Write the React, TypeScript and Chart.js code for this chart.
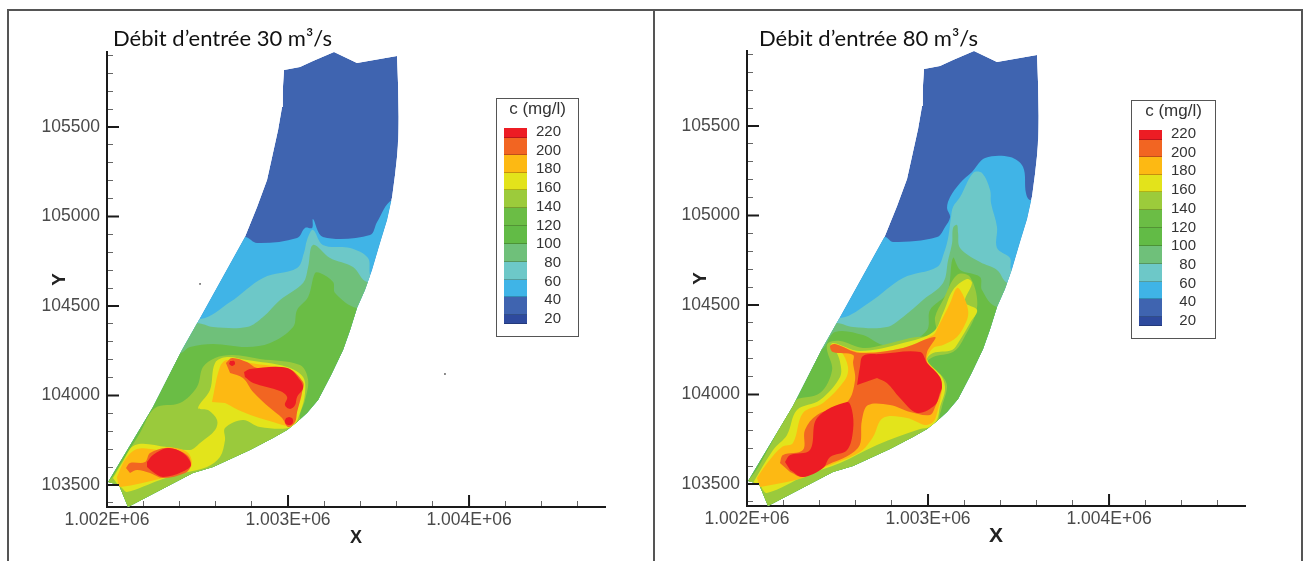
import React, { useEffect, useRef } from "react";
import { Chart, registerables } from "chart.js";

Chart.register(...registerables);

type P = [number, number];

const xAxisRange: P = [1002000, 1004751];
const yAxisRange: P = [103377, 105919];
const legendLevels = [220, 200, 180, 160, 140, 120, 100, 80, 60, 40, 20];
const legendColors = ["#ed1c24", "#f26522", "#fdb913", "#e3e31b", "#9ccb3b", "#6bbd45", "#62bb46", "#6fc07a", "#6dc8c8", "#3fb4e7", "#3f64b0", "#2e4a9e"];
const legendRowHeights = [10, 17, 18, 17, 18, 18, 18, 18, 18, 17, 18, 9];

// Colours of the filled contour bands
const c40 = "#3f64b0", c60 = "#40b4e7", c80 = "#6dc8c8", c100 = "#6fc07a", c120 = "#6abd45";
const c140 = "#9aca3c", c160 = "#e3e41b", c180 = "#fdb913", c200 = "#f26522", c220 = "#ed1c24";

const outsideBR: P = [1003729, 103304];
const outsideBL: P = [1001906, 103304];

const domain: P[] = [[1002978,105819],[1003066,105835],[1003138,105869],[1003254,105919],[1003381,105858],[1003602,105897],[1003608,105735],[1003613,105556],[1003608,105428],[1003602,105333],[1003591,105232],[1003575,105109],[1003547,104981],[1003508,104852],[1003464,104701],[1003425,104589],[1003381,104489],[1003343,104366],[1003304,104254],[1003238,104115],[1003166,103975],[1003105,103902],[1003050,103852],[1002995,103807],[1002917,103763],[1002790,103696],[1002586,103601],[1002475,103567],[1002116,103377],[1002066,103500],[1002006,103517],[1002254,103936],[1002414,104254],[1002514,104433],[1002762,104886],[1002829,105053],[1002884,105204],[1002917,105355],[1002945,105483],[1002967,105612],[1002972,105724]];

// ---- Débit 30 ----
const a60: P[] = [[1001906,104886],[1002762,104886],[1002829,104852],[1003050,104880],[1003094,104936],[1003133,104936],[1003138,104986],[1003193,104886],[1003453,104897],[1003492,104969],[1003575,105092],[1003729,105092],outsideBR,outsideBL];
const a80: P[] = [[1001906,104427],[1002514,104427],[1002680,104522],[1002862,104657],[1003050,104712],[1003088,104796],[1003105,104869],[1003138,104925],[1003193,104841],[1003343,104824],[1003442,104768],[1003464,104662],[1003729,104662],outsideBR,outsideBL];
const a100: P[] = [[1001906,104405],[1002497,104405],[1002586,104383],[1002773,104383],[1002862,104439],[1002956,104534],[1003083,104629],[1003111,104718],[1003138,104841],[1003232,104768],[1003359,104718],[1003437,104634],[1003729,104617],outsideBR,outsideBL];
const a120: P[] = [[1001906,104237],[1002403,104237],[1002459,104271],[1002586,104288],[1002773,104271],[1002901,104293],[1003028,104383],[1003050,104478],[1003111,104550],[1003149,104684],[1003177,104684],[1003249,104634],[1003260,104573],[1003381,104489],[1003729,104478],outsideBR,outsideBL];
const a140: P[] = [[1001906,103517],[1002000,103517],[1002088,103640],[1002182,103791],[1002265,103930],[1002403,103958],[1002497,104048],[1002530,104159],[1002597,104210],[1002696,104226],[1002845,104204],[1003066,104170],[1003111,104087],[1003094,103975],[1003066,103874],[1003122,103807],outsideBR,outsideBL];
const a160: P[] = [[1002033,103539],[1002083,103623],[1002155,103723],[1002331,103712],[1002459,103696],[1002514,103735],[1002597,103807],[1002608,103863],[1002558,103919],[1002503,103930],[1002569,104031],[1002597,104182],[1002663,104215],[1002773,104198],[1002995,104159],[1003083,104103],[1003094,104014],[1003066,103902],[1003022,103824],[1002845,103824],[1002751,103863],[1002652,103818],[1002652,103751],[1002624,103656],[1002553,103601],[1002420,103567],[1002293,103528],[1002110,103461],[1002083,103483],[1002061,103500]];
const a180Upper: P[] = [[1002580,103964],[1002624,104159],[1002663,104198],[1002790,104182],[1003011,104143],[1003066,104087],[1003077,104014],[1003050,103919],[1003022,103835],[1002917,103852],[1002751,103908],[1002652,103958]];
const a180Lower: P[] = [[1002055,103545],[1002099,103640],[1002166,103701],[1002293,103696],[1002337,103712],[1002442,103684],[1002470,103623],[1002448,103584],[1002309,103539],[1002072,103489],[1002061,103511]];
const a200Upper: P[] = [[1002657,104182],[1002691,104210],[1002773,104187],[1002829,104154],[1002995,104154],[1003083,104075],[1003077,104014],[1003050,103908],[1003039,103852],[1003000,103824],[1002967,103874],[1002901,103930],[1002807,104020],[1002751,104098],[1002680,104126]];
const a200Lower: P[] = [[1002105,103595],[1002127,103623],[1002210,103628],[1002238,103679],[1002337,103707],[1002442,103668],[1002464,103612],[1002431,103567],[1002309,103539],[1002238,103567],[1002166,103584],[1002127,103567]];
const a220Main: P[] = [[1002757,104131],[1002790,104148],[1002995,104154],[1003066,104087],[1003083,104042],[1003050,103992],[1003039,103947],[1003011,103925],[1002983,103947],[1002995,103992],[1002956,104025],[1002807,104070],[1002762,104103]];
const a220Spot1: P[] = [[1003006,103880],[1003022,103874],[1003028,103858],[1003022,103841],[1003006,103835],[1002989,103841],[1002983,103858],[1002989,103874]];
const a220Spot2: P[] = [[1002680,104193],[1002702,104193],[1002707,104176],[1002691,104165],[1002674,104176]];
const a220Lower: P[] = [[1002221,103628],[1002254,103668],[1002337,103707],[1002420,103679],[1002464,103612],[1002414,103573],[1002309,103545],[1002254,103573],[1002221,103601]];
const strayMarks: P[] = [[1002514,104623],[1003867,104120]];

// ---- Débit 80 ----
const b60: P[] = [[1001906,104880],[1002762,104880],[1002807,104852],[1003050,104880],[1003094,104936],[1003122,104992],[1003105,105042],[1003122,105103],[1003177,105182],[1003243,105243],[1003315,105321],[1003453,105327],[1003525,105271],[1003541,105126],[1003564,105087],[1003729,105087],outsideBR,outsideBL];
const b80: P[] = [[1001906,104427],[1002514,104427],[1002680,104517],[1002862,104651],[1003050,104712],[1003088,104791],[1003111,104874],[1003127,104992],[1003138,105048],[1003177,105103],[1003249,105238],[1003298,105238],[1003343,105143],[1003348,105070],[1003381,104936],[1003381,104819],[1003453,104763],[1003464,104696],[1003729,104696],outsideBR,outsideBL];
const b100: P[] = [[1001906,104400],[1002497,104400],[1002586,104377],[1002773,104377],[1002862,104433],[1002972,104528],[1003083,104623],[1003111,104751],[1003133,104846],[1003138,104930],[1003160,104947],[1003166,104902],[1003177,104819],[1003287,104740],[1003381,104696],[1003442,104623],[1003729,104623],outsideBR,outsideBL];
const b120: P[] = [[1001906,104249],[1002403,104249],[1002486,104349],[1002641,104332],[1002751,104277],[1002884,104288],[1002995,104360],[1003011,104472],[1003105,104567],[1003138,104763],[1003177,104696],[1003287,104657],[1003298,104584],[1003381,104489],[1003729,104489],outsideBR,outsideBL];
const b140: P[] = [[1001906,103522],[1002006,103522],[1002138,103735],[1002254,103958],[1002403,104008],[1002470,104137],[1002442,104249],[1002448,104288],[1002514,104299],[1002641,104260],[1002751,104277],[1002901,104316],[1003039,104344],[1003039,104433],[1003083,104528],[1003160,104668],[1003232,104657],[1003271,104489],[1003193,104305],[1003138,104237],[1003028,104210],[1002995,104176],[1003083,104098],[1003105,104042],[1003077,103930],[1003066,103846],[1003177,103751],outsideBR,outsideBL];
const b160: P[] = [[1002033,103506],[1002144,103690],[1002221,103774],[1002276,103913],[1002403,103969],[1002514,104098],[1002514,104182],[1002486,104249],[1002459,104260],[1002475,104288],[1002624,104243],[1002862,104288],[1003028,104349],[1003083,104455],[1003138,104584],[1003215,104645],[1003243,104623],[1003204,104517],[1003271,104472],[1003232,104400],[1003166,104288],[1003133,104249],[1003028,104232],[1002995,104193],[1003077,104098],[1003094,104025],[1003066,103930],[1003050,103858],[1003011,103818],[1002956,103807],[1002718,103718],[1002514,103617],[1002331,103550],[1002110,103450],[1002072,103494]];
const b180: P[] = [[1002055,103534],[1002116,103623],[1002193,103707],[1002254,103729],[1002309,103897],[1002420,103953],[1002541,104081],[1002558,104154],[1002514,104249],[1002459,104271],[1002486,104282],[1002624,104237],[1002862,104260],[1003028,104332],[1003055,104377],[1003122,104511],[1003160,104595],[1003193,104556],[1003221,104472],[1003215,104416],[1003160,104321],[1003083,104277],[1003028,104260],[1002995,104193],[1003050,104120],[1003077,104042],[1003050,103897],[1003028,103846],[1002983,103830],[1002884,103869],[1002751,103869],[1002696,103763],[1002624,103679],[1002420,103589],[1002309,103534],[1002072,103483]];
const b200: P[] = [[1002182,103617],[1002199,103662],[1002309,103690],[1002320,103802],[1002387,103886],[1002553,103958],[1002597,104081],[1002586,104176],[1002586,104221],[1002475,104237],[1002459,104271],[1002486,104282],[1002624,104232],[1002862,104260],[1003039,104321],[1002995,104237],[1002995,104176],[1003055,104109],[1003077,104042],[1003039,103930],[1003011,103886],[1002901,103902],[1002790,103941],[1002669,103941],[1002635,103858],[1002613,103701],[1002420,103595],[1002309,103539],[1002238,103567]];
const b220Upper: P[] = [[1002608,104053],[1002624,104154],[1002641,104215],[1002735,104226],[1002956,104237],[1002995,104176],[1003066,104098],[1003077,104042],[1003066,104008],[1003039,103941],[1002939,103897],[1002845,103980],[1002773,104064],[1002718,104092]];
const b220Lower: P[] = [[1002210,103623],[1002238,103662],[1002348,103690],[1002387,103869],[1002553,103958],[1002580,103913],[1002586,103802],[1002553,103690],[1002459,103651],[1002420,103589],[1002309,103539],[1002238,103578]];

type Layer = { color: string; pts: P[] };
const layers30: Layer[] = [
  { color: c40, pts: domain }, { color: c60, pts: a60 }, { color: c80, pts: a80 }, { color: c100, pts: a100 },
  { color: c120, pts: a120 }, { color: c140, pts: a140 }, { color: c160, pts: a160 },
  { color: c180, pts: a180Upper }, { color: c180, pts: a180Lower },
  { color: c200, pts: a200Upper }, { color: c200, pts: a200Lower },
  { color: c220, pts: a220Main }, { color: c220, pts: a220Spot1 }, { color: c220, pts: a220Spot2 }, { color: c220, pts: a220Lower },
];
const layers80: Layer[] = [
  { color: c40, pts: domain }, { color: c60, pts: b60 }, { color: c80, pts: b80 }, { color: c100, pts: b100 },
  { color: c120, pts: b120 }, { color: c140, pts: b140 }, { color: c160, pts: b160 }, { color: c180, pts: b180 },
  { color: c200, pts: b200 }, { color: c220, pts: b220Upper }, { color: c220, pts: b220Lower },
];

const sans = "'Liberation Sans', Arial, sans-serif";

type PanelProps = {
  layers: Layer[];
  stray: P[];
  left: number; top: number; width: number; height: number;
  yWidth: number; xHeight: number; padTop: number; padRight: number;
  yTitlePad: number; xTitlePad: number; xTitleSize: number;
};

function Panel(p: PanelProps) {
  const ref = useRef<HTMLCanvasElement>(null);
  useEffect(() => {
    const clipPlugin = {
      id: "domainClip",
      beforeDatasetsDraw(chart: any) {
        const { ctx, scales } = chart;
        ctx.save();
        ctx.beginPath();
        domain.forEach(([x, y], i) => {
          const px = scales.x.getPixelForValue(x), py = scales.y.getPixelForValue(y);
          if (i === 0) ctx.moveTo(px, py); else ctx.lineTo(px, py);
        });
        ctx.closePath();
        ctx.clip();
      },
      afterDatasetsDraw(chart: any) {
        const { ctx, scales } = chart;
        ctx.restore();
        ctx.save();
        ctx.fillStyle = "#555";
        p.stray.forEach(([x, y]) => {
          ctx.beginPath();
          ctx.arc(scales.x.getPixelForValue(x), scales.y.getPixelForValue(y), 0.9, 0, Math.PI * 2);
          ctx.fill();
        });
        ctx.restore();
      },
      afterDraw(chart: any) {
        const { ctx, scales, chartArea } = chart;
        ctx.save();
        ctx.strokeStyle = "#1a1a1a";
        ctx.lineWidth = 2;
        ctx.beginPath();
        scales.x.ticks.forEach((t: any) => {
          if (t.value % 1000 === 0) {
            const px = scales.x.getPixelForValue(t.value);
            ctx.moveTo(px, chartArea.bottom);
            ctx.lineTo(px, chartArea.bottom - 12);
          }
        });
        scales.y.ticks.forEach((t: any) => {
          if (t.value % 500 === 0) {
            const py = scales.y.getPixelForValue(t.value);
            ctx.moveTo(chartArea.left, py);
            ctx.lineTo(chartArea.left + 12, py);
          }
        });
        ctx.stroke();
        ctx.restore();
      },
    };
    const chart = new Chart(ref.current!, {
      type: "scatter",
      data: {
        datasets: p.layers.map((l, i) => ({
          data: l.pts.map(([x, y]) => ({ x, y })),
          showLine: true,
          fill: "shape",
          backgroundColor: l.color,
          borderWidth: 0,
          pointRadius: 0,
          tension: i === 0 ? 0 : 0.35,
          order: p.layers.length - i,
        })),
      } as any,
      options: {
        responsive: false,
        animation: false,
        layout: { padding: { top: p.padTop, right: p.padRight, left: 0, bottom: 0 } },
        plugins: { legend: { display: false }, tooltip: { enabled: false } },
        scales: {
          x: {
            type: "linear",
            min: xAxisRange[0],
            max: xAxisRange[1],
            afterFit: (s: any) => { s.height = p.xHeight; },
            border: { display: true, color: "#1a1a1a", width: 2 },
            grid: { drawOnChartArea: false, drawTicks: true, tickLength: -6, tickColor: "#666", tickWidth: 1 },
            ticks: {
              stepSize: 200, includeBounds: false, autoSkip: false, maxRotation: 0, minRotation: 0, padding: 9,
              color: "#4a4a4a", font: { family: sans, size: 17.5 },
              callback: (v: any) => (v % 1000 === 0 ? `${(v / 1e6).toFixed(3)}E+06` : ""),
            },
            title: { display: true, text: "X", color: "#222", font: { family: sans, size: p.xTitleSize, weight: "bold" }, padding: { top: 0, bottom: p.xTitlePad } },
          },
          y: {
            type: "linear",
            min: yAxisRange[0],
            max: yAxisRange[1],
            afterFit: (s: any) => { s.width = p.yWidth; },
            border: { display: true, color: "#1a1a1a", width: 2 },
            grid: { drawOnChartArea: false, drawTicks: true, tickLength: -6, tickColor: "#666", tickWidth: 1 },
            ticks: {
              stepSize: 100, includeBounds: false, autoSkip: false, padding: 13,
              color: "#4a4a4a", font: { family: sans, size: 17.5 },
              callback: (v: any) => (v % 500 === 0 ? String(v) : ""),
            },
            title: { display: true, text: "Y", color: "#222", font: { family: sans, size: 19, weight: "bold" }, padding: { top: p.yTitlePad, bottom: 0 } },
          },
        },
      } as any,
      plugins: [clipPlugin as any],
    });
    return () => chart.destroy();
  }, []);
  return (
    <canvas
      ref={ref}
      width={p.width}
      height={p.height}
      style={{ position: "absolute", left: p.left, top: p.top, width: p.width, height: p.height, filter: "blur(0.5px)" }}
    />
  );
}

function ColorLegend({ left, top, width, height }: { left: number; top: number; width: number; height: number }) {
  let y = 29;
  const swatches = legendColors.map((c, i) => {
    const el = (
      <div key={c + i} style={{ position: "absolute", left: 7, top: y, width: 23, height: legendRowHeights[i], background: c, boxShadow: "inset 0 -1px 0 rgba(0,0,0,0.22)" }} />
    );
    y += legendRowHeights[i];
    return el;
  });
  return (
    <div style={{ position: "absolute", left, top, width, height, boxSizing: "border-box", border: "1px solid #555", background: "#fff", fontFamily: sans, color: "#333", filter: "blur(0.3px)" }}>
      <div style={{ position: "absolute", left: 0, width: "100%", top: 0, textAlign: "center", fontSize: 17, lineHeight: "20px", whiteSpace: "nowrap" }}>c (mg/l)</div>
      {swatches}
      {legendLevels.map((v, i) => (
        <div key={v} style={{ position: "absolute", left: 34, width: 30, top: 23 + i * 18.7, textAlign: "right", fontSize: 15, lineHeight: "18px" }}>{v}</div>
      ))}
    </div>
  );
}

const titleStyle: React.CSSProperties = { position: "absolute", top: 25, fontFamily: "Lato, 'Open Sans', sans-serif", fontSize: 22, lineHeight: "26px", color: "#111", whiteSpace: "nowrap" };

export default function App() {
  useEffect(() => { document.body.style.margin = "0"; }, []);
  return (
    <div style={{ position: "absolute", left: 0, top: 0, width: 1303, height: 561, overflow: "hidden", background: "#fff" }}>
      <Panel layers={layers30} stray={strayMarks} left={9} top={10} width={644} height={550} yWidth={98} xHeight={53} padTop={42} padRight={48} yTitlePad={39} xTitlePad={11} xTitleSize={18} />
      <Panel layers={layers80} stray={[]} left={655} top={9} width={647} height={551} yWidth={92} xHeight={54} padTop={42} padRight={57} yTitlePad={34} xTitlePad={11} xTitleSize={21} />
      <div style={{ position: "absolute", left: 7, top: 9, width: 1296, height: 560, boxSizing: "border-box", border: "2px solid #555", pointerEvents: "none" }} />
      <div style={{ position: "absolute", left: 653, top: 9, width: 2, height: 552, background: "#555" }} />
      <div style={{ ...titleStyle, left: 113 }}>Débit d’entrée 30 m³/s</div>
      <div style={{ ...titleStyle, left: 759 }}>Débit d’entrée 80 m³/s</div>
      <ColorLegend left={496} top={98} width={83} height={239} />
      <ColorLegend left={1131} top={100} width={85} height={239} />
    </div>
  );
}
